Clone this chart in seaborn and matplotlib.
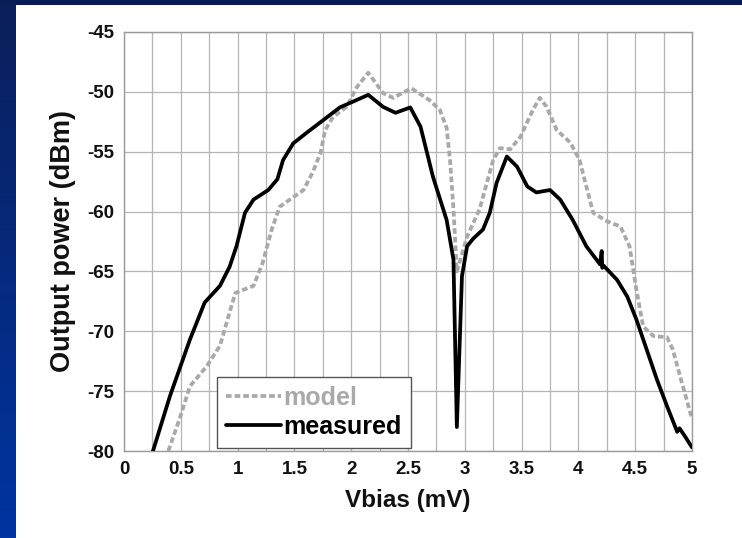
import numpy as np
import pandas as pd
import matplotlib
matplotlib.use("Agg")
import matplotlib.pyplot as plt
import seaborn as sns
from matplotlib.colors import LinearSegmentedColormap

# ---- data ----
measured_x = [0.255, 0.405, 0.58, 0.71, 0.845, 0.93, 0.99, 1.065, 1.14, 1.27, 1.35, 1.40, 1.49,
              1.61, 1.79, 1.90, 2.02, 2.15, 2.28, 2.39, 2.52, 2.61, 2.72, 2.84, 2.90, 2.93,
              2.975, 3.02, 3.07, 3.16, 3.22, 3.28, 3.37, 3.46, 3.55, 3.63, 3.75, 3.84, 3.95,
              4.07, 4.19, 4.205, 4.21, 4.22, 4.25, 4.34, 4.43, 4.51, 4.60, 4.69, 4.78, 4.87,
              4.89, 4.94, 5.0]
measured_y = [-80.0, -75.4, -70.7, -67.6, -66.2, -64.6, -62.9, -60.1, -59.0, -58.2, -57.3, -55.7, -54.3,
              -53.4, -52.1, -51.3, -50.8, -50.25, -51.25, -51.75, -51.3, -52.9, -57.1, -60.7, -64.0, -78.0,
              -65.4, -62.9, -62.3, -61.5, -60.1, -57.6, -55.4, -56.25, -57.9, -58.4, -58.2, -59.0, -60.7,
              -62.9, -64.4, -63.3, -64.7, -64.5, -64.8, -65.7, -67.1, -69.0, -71.5, -74.0, -76.25, -78.4,
              -78.1, -78.8, -79.7]

model_x = [0.39, 0.49, 0.58, 0.73, 0.845, 0.93, 0.98, 1.14, 1.22, 1.30, 1.37, 1.49, 1.58, 1.66,
           1.73, 1.77, 1.84, 1.96, 2.05, 2.15, 2.28, 2.37, 2.53, 2.69, 2.78, 2.84, 2.87, 2.90,
           2.93, 3.02, 3.13, 3.25, 3.31, 3.40, 3.49, 3.60, 3.66, 3.72, 3.81, 3.93, 4.01, 4.07,
           4.13, 4.25, 4.37, 4.45, 4.51, 4.57, 4.66, 4.78, 4.83, 4.92, 5.0]
model_y = [-80.0, -77.3, -74.6, -72.9, -71.2, -68.4, -66.8, -66.2, -64.3, -61.5, -59.6, -58.8, -58.2, -56.75,
           -55.1, -53.2, -52.1, -51.25, -49.6, -48.4, -50.1, -50.5, -49.7, -50.7, -51.5, -53.0, -55.7, -59.8,
           -65.0, -62.1, -59.8, -55.7, -54.7, -54.8, -53.75, -51.5, -50.5, -51.25, -53.2, -54.25, -55.7, -57.9,
           -60.1, -60.8, -61.25, -62.9, -66.5, -69.6, -70.4, -70.5, -71.5, -74.6, -77.3]

x_ticks = [0, 0.5, 1, 1.5, 2, 2.5, 3, 3.5, 4, 4.5, 5]
x_ticklabels = ["0", "0.5", "1", "1.5", "2", "2.5", "3", "3.5", "4", "4.5", "5"]
y_ticks = [-80, -75, -70, -65, -60, -55, -50, -45]

df_meas = pd.DataFrame({"Vbias": measured_x, "P": measured_y})
df_model = pd.DataFrame({"Vbias": model_x, "P": model_y})

sns.set_theme(style="white")
plt.rcParams["font.family"] = ["Liberation Sans", "DejaVu Sans"]
plt.rcParams["axes.unicode_minus"] = False

fig = plt.figure(figsize=(7.42, 5.38), dpi=100)
fig.patch.set_facecolor("white")

# slide background bands (top and left)
bg = fig.add_axes([0, 0, 1, 1], zorder=-10)
bg.set_axis_off()
grad = np.linspace(0, 1, 256).reshape(-1, 1)
cmap = LinearSegmentedColormap.from_list("band", ["#0b1f5a", "#0034a0"])
bg.imshow(grad, extent=[0, 16, 538, 0], cmap=cmap, aspect="auto")
bg.add_patch(plt.Rectangle((0, 0), 742, 5, color="#0a1c55", lw=0))
bg.set_xlim(0, 742)
bg.set_ylim(538, 0)

ax = fig.add_axes([124 / 742, 1 - 451 / 538, 568 / 742, 419 / 538])
ax.set_facecolor("white")

sns.lineplot(data=df_model, x="Vbias", y="P", sort=False, ax=ax, color="#a9a9a9",
             linewidth=2.7, linestyle=(0, (1.5, 0.8)), label="model", zorder=3)
sns.lineplot(data=df_meas, x="Vbias", y="P", sort=False, ax=ax, color="black",
             linewidth=2.7, label="measured", zorder=4)
for ln in ax.get_lines():
    ln.set_solid_joinstyle("round")
    ln.set_dash_joinstyle("round")

ax.set_xlim(0, 5)
ax.set_ylim(-80, -45)
ax.set_xticks(x_ticks)
ax.set_xticklabels(x_ticklabels)
ax.set_xticks(np.arange(0, 5.01, 0.25), minor=True)
ax.set_yticks(y_ticks)
ax.grid(True, which="both", axis="x", color="#b5b5b5", linewidth=0.9)
ax.grid(True, which="major", axis="y", color="#b5b5b5", linewidth=0.9)
for s in ax.spines.values():
    s.set_color("#9a9a9a")
    s.set_linewidth(1.0)

ax.tick_params(axis="both", which="major", labelsize=13.5, length=0, pad=7, colors="#111111")
ax.tick_params(axis="both", which="minor", length=0)
for lab in ax.get_xticklabels() + ax.get_yticklabels():
    lab.set_fontweight("bold")

ax.set_xlabel("Vbias (mV)", fontsize=17.5, fontweight="bold", color="#111111", labelpad=8)
ax.set_ylabel("Output power (dBm)", fontsize=19.5, fontweight="bold", color="#111111", labelpad=8)

leg = ax.legend(loc="lower left", bbox_to_anchor=(0.164, 0.008), fontsize=18,
                frameon=True, fancybox=False, framealpha=1, edgecolor="#555555",
                handlelength=2.2, handletextpad=0.1, borderpad=0.35, labelspacing=0.2,
                borderaxespad=0)
leg.get_frame().set_linewidth(1.0)
for t, c in zip(leg.get_texts(), ["#a9a9a9", "black"]):
    t.set_color(c)
    t.set_fontweight("bold")

fig.savefig("out.png", dpi=100)
